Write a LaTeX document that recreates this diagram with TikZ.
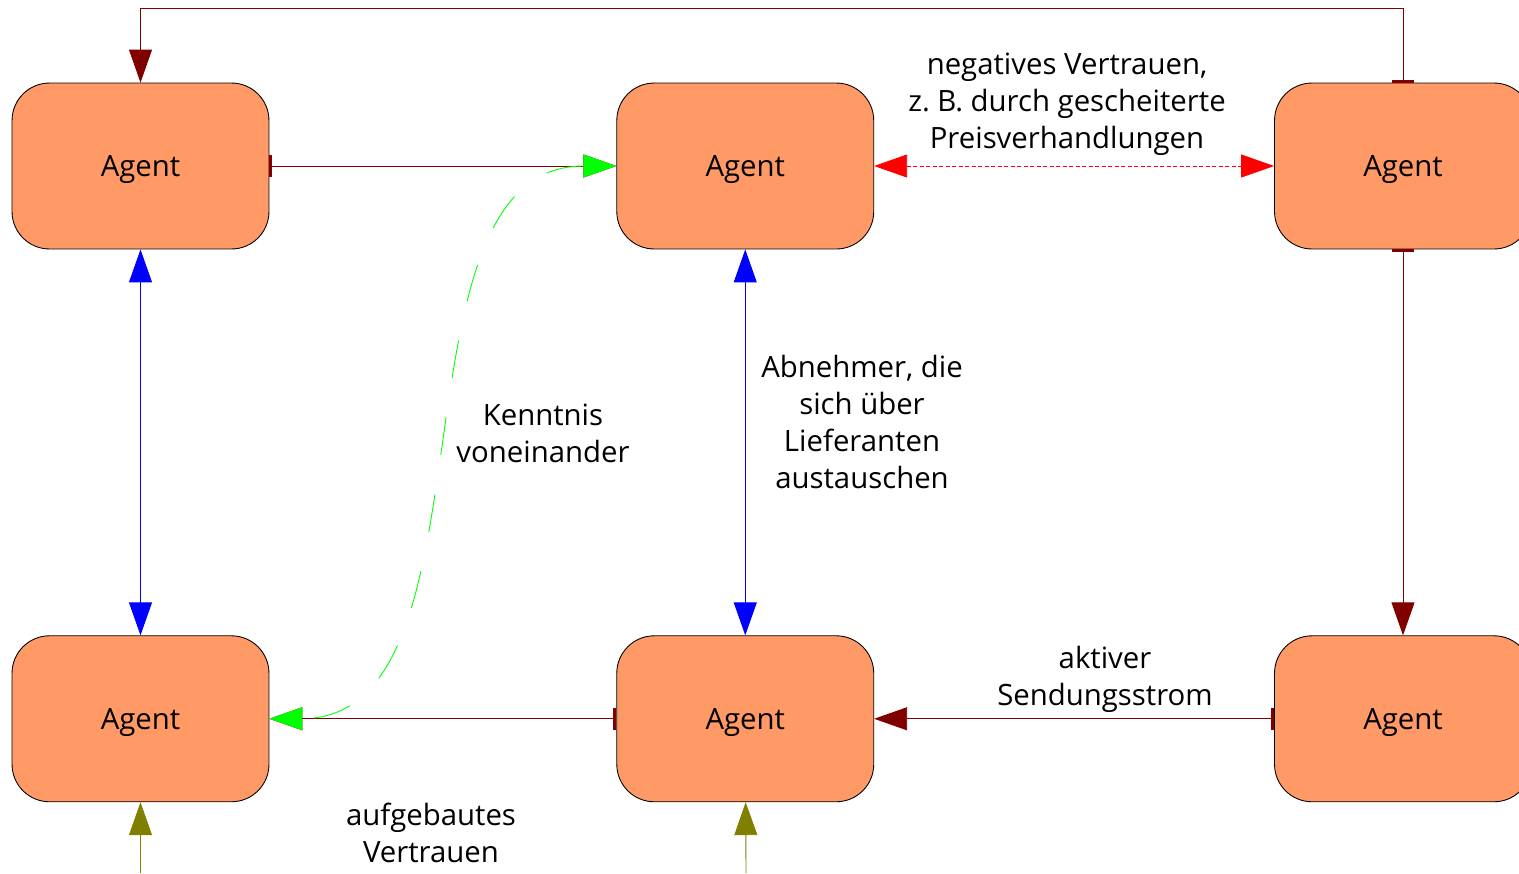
\documentclass[tikz,border=0pt]{standalone}
\usepackage{fontspec}
\setmainfont{Open Sans}
\usetikzlibrary{arrows.meta, positioning}
\definecolor{agentfill}{RGB}{255,153,102}
\definecolor{darkred}{RGB}{128,0,0}
\definecolor{trustolive}{RGB}{128,128,0}

\begin{document}
\begin{tikzpicture}[x=0.02cm,y=-0.02cm,
    font=\fontsize{16.7}{21}\selectfont,
    agent/.style={draw=black, fill=agentfill, line width=0.5pt, text depth=0pt,
      rounded corners=0.75cm, minimum width=5.14cm, minimum height=3.32cm},
    flow/.style={darkred, line width=0.5pt,
      {Bar[width=0.44cm, line width=0.06cm]}-{Triangle[length=0.66cm, width=0.46cm]}},
    negflow/.style={red, line width=0.5pt, dash pattern=on 0.08cm off 0.05cm,
      {Triangle[length=0.66cm, width=0.46cm]}-{Triangle[length=0.66cm, width=0.46cm]}},
    infoflow/.style={blue, line width=0.5pt,
      {Triangle[length=0.66cm, width=0.46cm]}-{Triangle[length=0.66cm, width=0.46cm]}},
    knownflow/.style={green, line width=0.5pt, dash pattern=on 0.76cm off 0.8cm,
      {Triangle[length=0.66cm, width=0.46cm]}-{Triangle[length=0.66cm, width=0.46cm]}},
    trustflow/.style={trustolive, line width=0.5pt,
      -{Triangle[length=0.66cm, width=0.46cm]}},
    note/.style={align=center, inner sep=0pt}]
  \useasboundingbox (0,0) rectangle (1519,873);

  % agents
  \node[agent] (tl) at (140.5,166) {Agent};
  \node[agent, right=6.94cm of tl] (tm) {Agent};
  \node[agent, right=8.00cm of tm] (tr) {Agent};
  \node[agent, below=7.72cm of tl] (bl) {Agent};
  \node[agent, below=7.72cm of tm] (bm) {Agent};
  \node[agent, below=7.72cm of tr] (br) {Agent};

  % free ends at the bottom
  \coordinate (inbl) at (140.5,873);
  \coordinate (inbm) at (746,873);

  % shipments
  \draw[flow] (tr.north) -- ++(0,-74) -| (tl.north);
  \path (tl) edge[flow] (tm)
        (tr) edge[flow] (br)
        (br) edge[flow] (bm)
        (bm) edge[flow] (bl);

  % relations
  \path (tm) edge[negflow] (tr)
        (tl) edge[infoflow] (bl)
        (tm) edge[infoflow] (bm);
  \draw[knownflow] (tm.west) .. controls (380,166) and (505,718) .. (bl.east);
  \draw[trustflow] (inbl) -- (bl);
  \draw[trustflow] (inbm) -- (bm);

  % labels
  \node[note] (negtxt) at (1067,104) {negatives Vertrauen,\\z.~B. durch gescheiterte\\Preisverhandlungen};
  \node[note] (knowtxt) at (543,433) {Kenntnis\\voneinander};
  \node[note] (abntxt) at (862,422) {Abnehmer, die\\sich über\\Lieferanten\\austauschen};
  \node[note] (sendtxt) at (1105,679) {aktiver\\Sendungsstrom};
  \node[note] (trusttxt) at (431,833) {aufgebautes\\Vertrauen};
\end{tikzpicture}
\end{document}
